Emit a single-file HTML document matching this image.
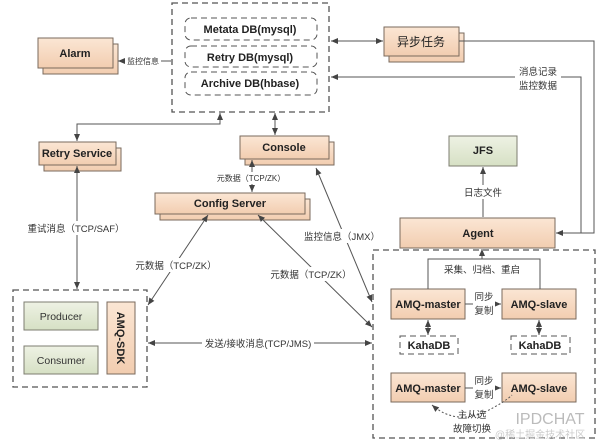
<!DOCTYPE html>
<html><head><meta charset="utf-8"><style>
body{margin:0;background:#fff;}
svg{display:block;font-family:"Liberation Sans","Noto Sans CJK SC",sans-serif;}
.b{fill:url(#g);stroke:#7a6a5c;stroke-width:1;}
.gr{fill:url(#gg);stroke:#7d7d70;stroke-width:1;}
.t{font-size:11px;font-weight:bold;fill:#222;text-anchor:middle;}
.l{font-size:9.5px;fill:#333;text-anchor:middle;}
.ln{stroke:#555;stroke-width:1;fill:none;}
.d{stroke:#555;stroke-width:1.3;fill:none;stroke-dasharray:6,4;}
</style></head><body>
<svg width="600" height="446" viewBox="0 0 600 446">
<defs>
<linearGradient id="g" x1="0" y1="0" x2="0" y2="1"><stop offset="0" stop-color="#fbe6d4"/><stop offset="1" stop-color="#f2cdb0"/></linearGradient>
<linearGradient id="gg" x1="0" y1="0" x2="0" y2="1"><stop offset="0" stop-color="#eef2e4"/><stop offset="1" stop-color="#d6e0c4"/></linearGradient>
<linearGradient id="gw" x1="0" y1="0" x2="0" y2="1"><stop offset="0" stop-color="#fff"/><stop offset="1" stop-color="#eee"/></linearGradient>
<marker id="a" markerWidth="8" markerHeight="8" refX="7" refY="4" orient="auto" markerUnits="userSpaceOnUse"><path d="M0,1 L7,4 L0,7 Z" fill="#444"/></marker>
<marker id="s" markerWidth="8" markerHeight="8" refX="1" refY="4" orient="auto" markerUnits="userSpaceOnUse"><path d="M8,1 L1,4 L8,7 Z" fill="#444"/></marker>
</defs>

<!-- top container -->
<rect x="172" y="3" width="157" height="109" class="d"/>
<rect x="185" y="18" width="132" height="22" rx="6" fill="url(#gw)" class="d" style="stroke-width:1"/>
<rect x="185" y="46" width="132" height="21" rx="6" fill="url(#gw)" class="d" style="stroke-width:1"/>
<rect x="185" y="72" width="132" height="23" rx="6" fill="url(#gw)" class="d" style="stroke-width:1"/>
<text x="250" y="33" class="t">Metata DB(mysql)</text>
<text x="250" y="61" class="t">Retry DB(mysql)</text>
<text x="250" y="87" class="t">Archive DB(hbase)</text>

<!-- boxes with shadows -->
<rect x="43" y="44" width="75" height="30" class="b"/><rect x="38" y="38" width="75" height="30" class="b"/>
<text x="75" y="57" class="t">Alarm</text>
<rect x="389" y="33" width="75" height="29" class="b"/><rect x="384" y="27" width="75" height="29" class="b"/>
<text x="421" y="46" class="t" style="font-weight:normal;font-size:12px">异步任务</text>
<rect x="44" y="148" width="77" height="23" class="b"/><rect x="39" y="142" width="77" height="23" class="b"/>
<text x="77" y="157" class="t">Retry Service</text>
<rect x="245" y="142" width="89" height="23" class="b"/><rect x="240" y="136" width="89" height="23" class="b"/>
<text x="284" y="151" class="t">Console</text>
<rect x="160" y="199" width="150" height="21" class="b"/><rect x="155" y="193" width="150" height="21" class="b"/>
<text x="230" y="207" class="t">Config Server</text>
<rect x="449" y="136" width="68" height="30" class="gr"/>
<text x="483" y="154" class="t">JFS</text>
<rect x="400" y="218" width="155" height="30" class="b"/>
<text x="478" y="237" class="t">Agent</text>

<!-- left container -->
<rect x="13" y="290" width="134" height="97" class="d"/>
<rect x="24" y="302" width="74" height="28" class="gr"/><text x="61" y="320" class="l" style="font-size:10.5px">Producer</text>
<rect x="24" y="346" width="74" height="28" class="gr"/><text x="61" y="364" class="l" style="font-size:10.5px">Consumer</text>
<rect x="107" y="302" width="28" height="72" class="b"/>
<text x="121" y="338" class="t" transform="rotate(90 121 338)" dy="4">AMQ-SDK</text>

<!-- right container -->
<rect x="373" y="250" width="222" height="188" class="d"/>
<rect x="391" y="289" width="74" height="30" class="b"/><text x="428" y="308" class="t">AMQ-master</text>
<rect x="502" y="289" width="74" height="30" class="b"/><text x="539" y="308" class="t">AMQ-slave</text>
<rect x="400" y="336" width="58" height="18" fill="#fff" class="d" style="stroke-width:1"/><text x="429" y="349" class="t">KahaDB</text>
<rect x="511" y="336" width="59" height="18" fill="#fff" class="d" style="stroke-width:1"/><text x="540" y="349" class="t">KahaDB</text>
<rect x="391" y="373" width="74" height="29" class="b"/><text x="428" y="392" class="t">AMQ-master</text>
<rect x="502" y="373" width="74" height="29" class="b"/><text x="539" y="392" class="t">AMQ-slave</text>

<!-- connectors -->
<line x1="171" y1="61" x2="118" y2="61" class="ln" marker-end="url(#a)"/>
<rect x="125" y="55" width="36" height="12" fill="#fff"/><text x="143" y="64" class="l" style="font-size:8px">监控信息</text>
<line x1="331" y1="41" x2="383" y2="41" class="ln" marker-start="url(#s)" marker-end="url(#a)"/>
<polyline points="459,41 594,41 594,233 556,233" class="ln" marker-end="url(#a)"/>
<polyline points="581,233 581,77 331,77" class="ln" marker-end="url(#a)"/>
<rect x="515" y="64" width="46" height="30" fill="#fff"/>
<text x="538" y="75" class="l">消息记录</text><text x="538" y="89" class="l">监控数据</text>
<polyline points="220,113 220,124 77,124 77,141" class="ln" marker-start="url(#s)" marker-end="url(#a)"/>
<line x1="275" y1="113" x2="275" y2="135" class="ln" marker-start="url(#s)" marker-end="url(#a)"/>
<line x1="252" y1="160" x2="252" y2="192" class="ln" marker-start="url(#s)" marker-end="url(#a)"/>
<rect x="218" y="172" width="66" height="12" fill="#fff"/><text x="251" y="181" class="l" style="font-size:8px">元数据（TCP/ZK）</text>
<line x1="77" y1="166" x2="77" y2="289" class="ln" marker-start="url(#s)" marker-end="url(#a)"/>
<rect x="26" y="221" width="100" height="14" fill="#fff"/><text x="76" y="232" class="l">重试消息（TCP/SAF）</text>
<line x1="208" y1="215" x2="148" y2="305" class="ln" marker-start="url(#s)" marker-end="url(#a)"/>
<rect x="135" y="258" width="82" height="14" fill="#fff"/><text x="176" y="269" class="l">元数据（TCP/ZK）</text>
<line x1="258" y1="215" x2="372" y2="327" class="ln" marker-start="url(#s)" marker-end="url(#a)"/>
<line x1="316" y1="168" x2="372" y2="302" class="ln" marker-start="url(#s)" marker-end="url(#a)"/>
<rect x="270" y="267" width="82" height="14" fill="#fff"/><text x="311" y="278" class="l">元数据（TCP/ZK）</text>
<rect x="302" y="229" width="80" height="14" fill="#fff"/><text x="342" y="240" class="l">监控信息（JMX）</text>
<line x1="148" y1="343" x2="372" y2="343" class="ln" marker-start="url(#s)" marker-end="url(#a)"/>
<rect x="202" y="336" width="112" height="14" fill="#fff"/><text x="258" y="347" class="l">发送/接收消息(TCP/JMS)</text>
<line x1="483" y1="217" x2="483" y2="167" class="ln" marker-end="url(#a)"/>
<rect x="460" y="185" width="46" height="14" fill="#fff"/><text x="483" y="196" class="l">日志文件</text>
<polyline points="428,289 428,259 540,259 540,289" class="ln"/>
<line x1="482" y1="259" x2="482" y2="249" class="ln" marker-end="url(#a)"/>
<rect x="440" y="262" width="84" height="14" fill="#fff"/><text x="482" y="273" class="l">采集、归档、重启</text>
<line x1="465" y1="304" x2="501" y2="304" class="ln" marker-end="url(#a)"/>
<rect x="473" y="291" width="22" height="28" fill="#fff"/><text x="484" y="300" class="l">同步</text><text x="484" y="314" class="l">复制</text>
<line x1="428" y1="320" x2="428" y2="335" class="ln" marker-start="url(#s)" marker-end="url(#a)"/>
<line x1="539" y1="320" x2="539" y2="335" class="ln" marker-start="url(#s)" marker-end="url(#a)"/>
<line x1="465" y1="388" x2="501" y2="388" class="ln" marker-end="url(#a)"/>
<rect x="473" y="375" width="22" height="28" fill="#fff"/><text x="484" y="384" class="l">同步</text><text x="484" y="398" class="l">复制</text>
<path d="M432,405 Q455,425 485,412 Q505,402 512,395" class="ln" stroke-dasharray="2,2" stroke="#999" marker-start="url(#s)"/>
<text x="472" y="418" class="l">主从选</text><text x="472" y="432" class="l">故障切换</text>
<text x="550" y="424" style="font-size:16px;fill:#bbb;text-anchor:middle">IPDCHAT</text>
<text x="540" y="438" style="font-size:10px;fill:#ccc;text-anchor:middle">@稀土掘金技术社区</text>
</svg>
</body></html>
